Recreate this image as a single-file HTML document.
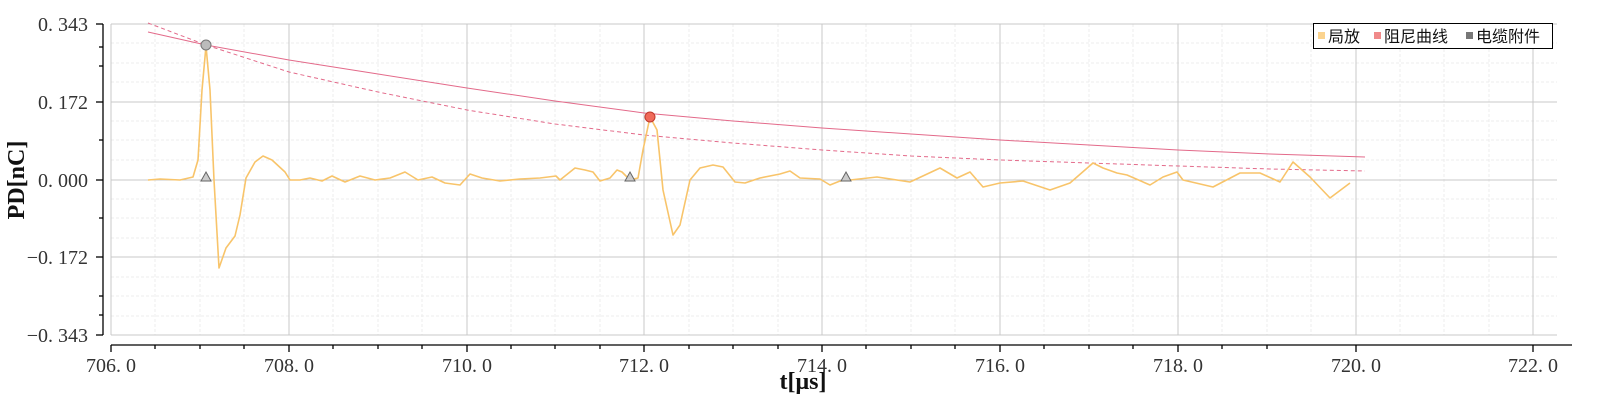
<!DOCTYPE html>
<html><head><meta charset="utf-8"><style>
html,body{margin:0;padding:0;background:#fff;}
svg{display:block;font-family:"Liberation Serif","Noto Serif CJK SC",serif;}
</style></head><body>
<svg width="1601" height="410" viewBox="0 0 1601 410" xmlns="http://www.w3.org/2000/svg">
<rect width="1601" height="410" fill="#fff"/>
<g stroke="#ececec" stroke-width="1" stroke-dasharray="3,2">
<line x1="155" y1="24" x2="155" y2="335"/><line x1="200" y1="24" x2="200" y2="335"/><line x1="244" y1="24" x2="244" y2="335"/>
<line x1="333" y1="24" x2="333" y2="335"/><line x1="378" y1="24" x2="378" y2="335"/><line x1="422" y1="24" x2="422" y2="335"/>
<line x1="511" y1="24" x2="511" y2="335"/><line x1="555" y1="24" x2="555" y2="335"/><line x1="600" y1="24" x2="600" y2="335"/>
<line x1="689" y1="24" x2="689" y2="335"/><line x1="733" y1="24" x2="733" y2="335"/><line x1="778" y1="24" x2="778" y2="335"/>
<line x1="866" y1="24" x2="866" y2="335"/><line x1="911" y1="24" x2="911" y2="335"/><line x1="955" y1="24" x2="955" y2="335"/>
<line x1="1044" y1="24" x2="1044" y2="335"/><line x1="1089" y1="24" x2="1089" y2="335"/><line x1="1133" y1="24" x2="1133" y2="335"/>
<line x1="1222" y1="24" x2="1222" y2="335"/><line x1="1267" y1="24" x2="1267" y2="335"/><line x1="1311" y1="24" x2="1311" y2="335"/>
<line x1="1400" y1="24" x2="1400" y2="335"/><line x1="1444" y1="24" x2="1444" y2="335"/><line x1="1489" y1="24" x2="1489" y2="335"/>
<line x1="111" y1="43" x2="1557" y2="43"/><line x1="111" y1="63" x2="1557" y2="63"/><line x1="111" y1="82" x2="1557" y2="82"/>
<line x1="111" y1="121" x2="1557" y2="121"/><line x1="111" y1="140" x2="1557" y2="140"/><line x1="111" y1="160" x2="1557" y2="160"/>
<line x1="111" y1="199" x2="1557" y2="199"/><line x1="111" y1="218" x2="1557" y2="218"/><line x1="111" y1="238" x2="1557" y2="238"/>
<line x1="111" y1="277" x2="1557" y2="277"/><line x1="111" y1="296" x2="1557" y2="296"/><line x1="111" y1="316" x2="1557" y2="316"/>
</g>
<g stroke="#c8c8c8" stroke-width="1">
<line x1="111" y1="24" x2="111" y2="335"/><line x1="289" y1="24" x2="289" y2="335"/><line x1="467" y1="24" x2="467" y2="335"/>
<line x1="644" y1="24" x2="644" y2="335"/><line x1="822" y1="24" x2="822" y2="335"/><line x1="1000" y1="24" x2="1000" y2="335"/>
<line x1="1178" y1="24" x2="1178" y2="335"/><line x1="1356" y1="24" x2="1356" y2="335"/><line x1="1533" y1="24" x2="1533" y2="335"/>
<line x1="111" y1="24" x2="1557" y2="24"/><line x1="111" y1="102" x2="1557" y2="102"/><line x1="111" y1="180" x2="1557" y2="180"/>
<line x1="111" y1="257" x2="1557" y2="257"/><line x1="111" y1="335" x2="1557" y2="335"/>
</g>
<g stroke="#000" stroke-width="1.3">
<line x1="103" y1="24" x2="103" y2="335"/>
<line x1="96" y1="24" x2="103" y2="24"/><line x1="96" y1="102" x2="103" y2="102"/><line x1="96" y1="180" x2="103" y2="180"/><line x1="96" y1="257" x2="103" y2="257"/><line x1="96" y1="335" x2="103" y2="335"/>
<line x1="99" y1="47" x2="103" y2="47"/><line x1="99" y1="66" x2="103" y2="66"/><line x1="99" y1="140" x2="103" y2="140"/><line x1="99" y1="218" x2="103" y2="218"/><line x1="99" y1="296" x2="103" y2="296"/><line x1="99" y1="315" x2="103" y2="315"/>
<line x1="111" y1="345" x2="1572" y2="345"/>
<line x1="111" y1="345" x2="111" y2="352"/><line x1="289" y1="345" x2="289" y2="352"/><line x1="467" y1="345" x2="467" y2="352"/><line x1="644" y1="345" x2="644" y2="352"/><line x1="822" y1="345" x2="822" y2="352"/><line x1="1000" y1="345" x2="1000" y2="352"/><line x1="1178" y1="345" x2="1178" y2="352"/><line x1="1356" y1="345" x2="1356" y2="352"/><line x1="1533" y1="345" x2="1533" y2="352"/>
<line x1="155" y1="345" x2="155" y2="349"/><line x1="200" y1="345" x2="200" y2="349"/><line x1="244" y1="345" x2="244" y2="349"/>
<line x1="333" y1="345" x2="333" y2="349"/><line x1="378" y1="345" x2="378" y2="349"/><line x1="422" y1="345" x2="422" y2="349"/>
<line x1="511" y1="345" x2="511" y2="349"/><line x1="555" y1="345" x2="555" y2="349"/><line x1="600" y1="345" x2="600" y2="349"/>
<line x1="689" y1="345" x2="689" y2="349"/><line x1="733" y1="345" x2="733" y2="349"/><line x1="778" y1="345" x2="778" y2="349"/>
<line x1="866" y1="345" x2="866" y2="349"/><line x1="911" y1="345" x2="911" y2="349"/><line x1="955" y1="345" x2="955" y2="349"/>
<line x1="1044" y1="345" x2="1044" y2="349"/><line x1="1089" y1="345" x2="1089" y2="349"/><line x1="1133" y1="345" x2="1133" y2="349"/>
<line x1="1222" y1="345" x2="1222" y2="349"/><line x1="1267" y1="345" x2="1267" y2="349"/>
</g>
<g font-size="20" fill="#333" text-anchor="end">
<text x="88" y="31">0. 343</text><text x="88" y="109">0. 172</text><text x="88" y="187">0. 000</text><text x="88" y="264">−0. 172</text><text x="88" y="342">−0. 343</text>
</g>
<g font-size="20" fill="#333" text-anchor="middle">
<text x="111" y="372">706. 0</text><text x="289" y="372">708. 0</text><text x="467" y="372">710. 0</text><text x="644" y="372">712. 0</text><text x="822" y="372">714. 0</text><text x="1000" y="372">716. 0</text><text x="1178" y="372">718. 0</text><text x="1356" y="372">720. 0</text><text x="1533" y="372">722. 0</text>
</g>
<text x="803" y="389" font-size="24" font-weight="bold" text-anchor="middle" fill="#111">t[μs]</text>
<text transform="translate(24,180) rotate(-90)" font-size="24" font-weight="bold" text-anchor="middle" fill="#111">PD[nC]</text>
<polyline fill="none" stroke="#e36a8a" stroke-width="1" points="148,32 206,45 289,60 378,74 467,88 555,101 644,113 733,121 822,128 911,134 1000,140 1089,145 1178,150 1270,154 1365,157"/>
<polyline fill="none" stroke="#e36a8a" stroke-width="1" stroke-dasharray="4,3" points="148,23 206,45 289,72 378,92 467,110 555,124 644,135 733,143 822,150 911,156 1000,160 1089,163 1178,166 1270,169 1365,171"/>
<polyline fill="none" stroke="#f8c46a" stroke-width="1.6" stroke-linejoin="round" points="148,180 160,179 180,180 193,177 198,160 202,90 206,46 210,90 214,180 219,268 226,248 235,236 240,215 246,178 255,162 263,156 272,160 285,172 290,180 300,180 310,178 322,181 332,176 345,182 360,176 375,180 390,178 405,172 418,180 432,177 445,183 460,185 470,174 482,178 500,181 520,179 540,178 556,176 560,180 575,168 585,170 593,172 600,181 610,178 617,170 622,172 630,180 638,178 643,150 650,117 657,130 663,190 673,235 680,225 690,180 700,168 713,165 723,167 735,182 745,183 760,178 780,174 790,171 800,178 820,179 830,185 840,181 850,180 877,177 910,182 940,168 957,178 970,172 983,187 1000,183 1023,181 1050,190 1070,183 1093,163 1103,168 1117,173 1127,175 1150,185 1163,177 1177,172 1183,180 1213,187 1240,173 1260,173 1280,182 1293,162 1310,177 1330,198 1350,183"/>
<circle cx="206" cy="45" r="5" fill="#bbb" stroke="#777" stroke-width="1"/>
<circle cx="650" cy="117" r="5" fill="#f06a5a" stroke="#c0392b" stroke-width="1"/>
<g fill="#ccc" stroke="#666" stroke-width="1">
<path d="M206,172 L211,181 L201,181 Z"/><path d="M630,172 L635,181 L625,181 Z"/><path d="M846,172 L851,181 L841,181 Z"/>
</g>
<rect x="1313.5" y="23.5" width="239" height="25" fill="#fff" stroke="#000" stroke-width="1"/>
<rect x="1318" y="32" width="7" height="7" fill="#fbd38e"/>
<rect x="1374" y="32" width="7" height="7" fill="#f08a8a"/>
<rect x="1466" y="32" width="7" height="7" fill="#777"/>
<g font-family="'Liberation Sans','Noto Sans CJK SC',sans-serif" font-size="16" fill="#111">
<text x="1328" y="42">局放</text><text x="1384" y="42">阻尼曲线</text><text x="1476" y="42">电缆附件</text>
</g>
</svg>
</body></html>
